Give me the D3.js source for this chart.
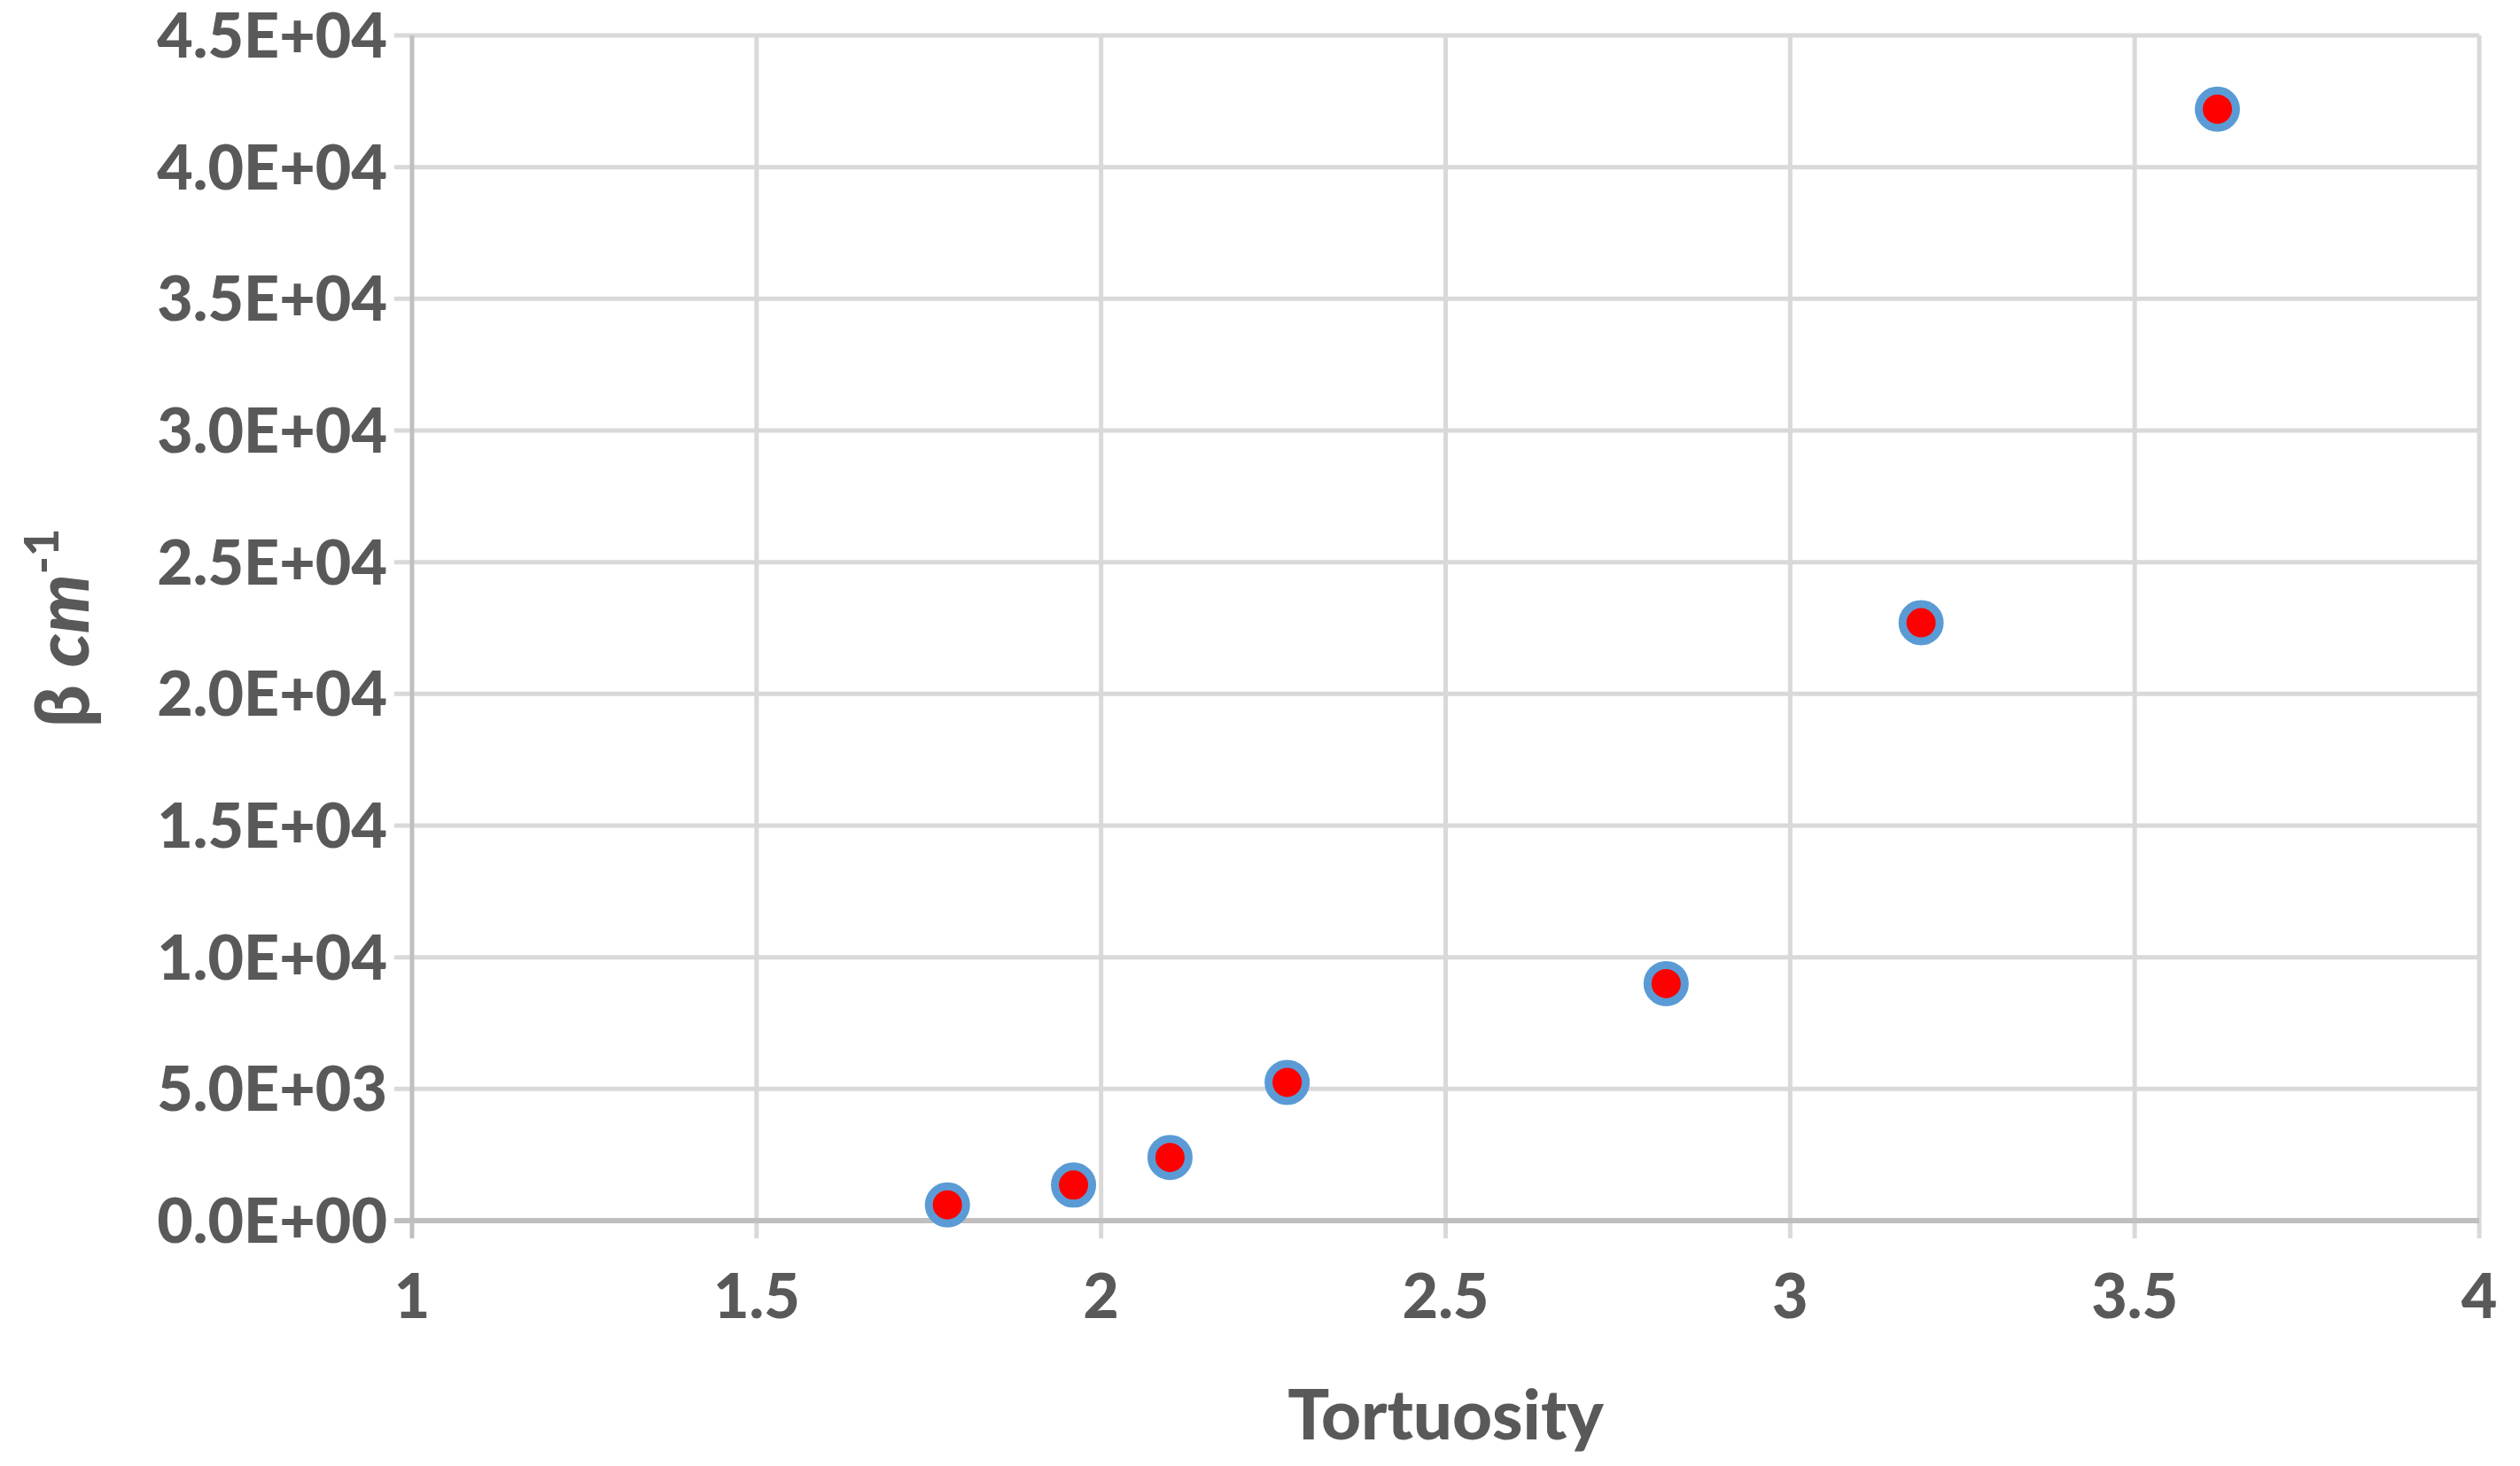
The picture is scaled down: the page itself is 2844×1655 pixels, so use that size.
<!DOCTYPE html><html><head><meta charset="utf-8">
<script src="https://cdn.jsdelivr.net/npm/d3@7"></script>
<style>body{margin:0;background:#fff}</style></head><body>
<svg id="c" width="2844" height="1655"></svg>
<script>
const tortuosity=[1.777,1.96,2.10,2.27,2.82,3.19,3.62];
const beta=[600,1350,2400,5250,9000,22700,42200];
const xTicks=[1,1.5,2,2.5,3,3.5,4];
const yTicks=[0,5000,10000,15000,20000,25000,30000,35000,40000,45000];
const svg=d3.select("#c");
const L=465,R=2798,T=40,B=1378;
const x=d3.scaleLinear().domain([1,4]).range([L,R]);
const y=d3.scaleLinear().domain([0,45000]).range([B,T]);
const font="Lato, 'Open Sans', sans-serif";
const g=svg.append("g");
g.selectAll(".gx").data(xTicks.slice(1)).join("line").attr("x1",d=>x(d)).attr("x2",d=>x(d)).attr("y1",T).attr("y2",B+20).attr("stroke","#d9d9d9").attr("stroke-width",5);
g.selectAll(".gy").data(yTicks.slice(1)).join("line").attr("x1",L-20).attr("x2",R).attr("y1",d=>y(d)).attr("y2",d=>y(d)).attr("stroke","#d9d9d9").attr("stroke-width",5);
g.append("line").attr("x1",L).attr("x2",L).attr("y1",T).attr("y2",B+20).attr("stroke","#bfbfbf").attr("stroke-width",5);
g.append("line").attr("x1",L-20).attr("x2",R).attr("y1",B).attr("y2",B).attr("stroke","#bfbfbf").attr("stroke-width",6);
g.selectAll(".tx").data(xTicks).join("text").attr("x",d=>x(d)).attr("y",B+110).attr("text-anchor","middle").text(d=>d)
 .attr("font-family",font).attr("font-weight",900).attr("font-size",70).attr("fill","#595959");
g.selectAll(".ty").data(yTicks).join("text").attr("x",L-28).attr("y",d=>y(d)+25).attr("text-anchor","end")
 .text(d=>{const e=d===0?0:Math.floor(Math.log10(d));const m=d/Math.pow(10,e);return m.toFixed(1)+"E+"+String(e).padStart(2,"0");})
 .attr("font-family",font).attr("font-weight",900).attr("font-size",70).attr("fill","#595959");
svg.append("text").attr("x",(L+R)/2).attr("y",1625).attr("text-anchor","middle").text("Tortuosity")
 .attr("font-family",font).attr("font-weight",900).attr("font-size",78).attr("fill","#595959");
const yl=svg.append("text").attr("transform",`translate(100,${(T+B)/2}) rotate(-90)`).attr("text-anchor","middle")
 .attr("font-family",font).attr("font-weight",900).attr("font-size",84).attr("fill","#595959");
yl.append("tspan").text("β ");
yl.append("tspan").attr("font-style","italic").text("cm");
yl.append("tspan").attr("font-size",54).attr("dy",-34).text("-1");
svg.selectAll(".pt").data(tortuosity.map((t,i)=>[t,beta[i]])).join("circle")
 .attr("cx",d=>x(d[0])).attr("cy",d=>y(d[1])).attr("r",21).attr("fill","#ff0000").attr("stroke","#5b9bd5").attr("stroke-width",9);
</script></body></html>
